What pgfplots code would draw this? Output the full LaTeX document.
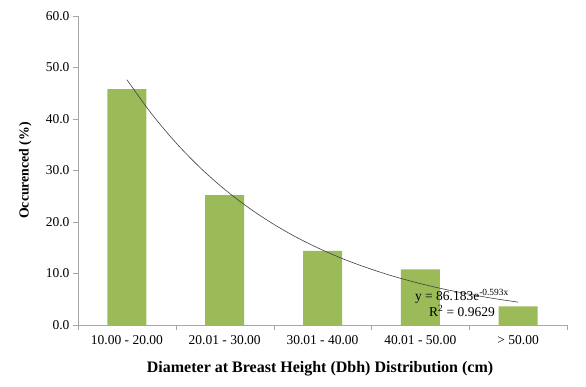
\documentclass[border=0pt]{standalone}
\usepackage{pgfplots}
\pgfplotsset{compat=1.18}
\usepackage{fontspec}
\setmainfont{Liberation Serif}
\definecolor{bargreen}{HTML}{9BBB59}
\definecolor{axisgray}{HTML}{A6A6A6}
\begin{document}
\begin{tikzpicture}
\path[use as bounding box] (-78pt,-62pt) rectangle (508pt,325pt);
\begin{axis}[
  at={(0pt,0pt)}, anchor=south west,
  scale only axis, width=489pt, height=309pt,
  xmin=-0.5, xmax=4.5, ymin=0, ymax=60,
  axis x line*=bottom, axis y line*=left,
  axis line style={draw=axisgray},
  tick style={draw=axisgray},
  tick align=outside, major tick length=5pt,
  xtick={-0.5,0.5,...,4.5},
  x tick label as interval,
  xticklabels={10.00 - 20.00, 20.01 - 30.00, 30.01 - 40.00, 40.01 - 50.00, > 50.00},
  ytick={0,10,...,60},
  yticklabel style={/pgf/number format/.cd,fixed,fixed zerofill,precision=1},
  /pgf/number format/assume math mode=true,
  ticklabel style={font=\fontsize{13.5}{15}\selectfont},
  xticklabel style={yshift=-2pt},
  xlabel={Diameter at Breast Height (Dbh) Distribution (cm)},
  ylabel={Occurenced (\%)},
  xlabel style={font=\fontsize{16}{18}\selectfont\bfseries, at={(axis description cs:0.495,-0.142)}, anchor=center},
  ylabel style={font=\fontsize{13.8}{16}\selectfont\bfseries, at={(axis description cs:-0.108,0.5)}, anchor=center},
  clip=false,
]
\addplot[ybar, bar width=39pt, fill=bargreen, draw=none] coordinates {
  (0,45.8) (1,25.2) (2,14.4) (3,10.8) (4,3.6)
};
\addplot[smooth, draw=black!75, line width=0.6pt, no marks] coordinates {
  (0,47.63) (0.25,41.07) (0.5,35.41) (0.75,30.53) (1,26.32) (1.25,22.70)
  (1.5,19.57) (1.75,16.87) (2,14.55) (2.25,12.54) (2.5,10.82) (2.75,9.32)
  (3,8.04) (3.25,6.93) (3.5,5.98) (3.75,5.15) (4,4.44)
};
\node[align=center, font=\fontsize{13.5}{16}\selectfont, inner sep=0pt] at (axis cs:3.426,4.27)
  {y = 86.183e\textsuperscript{-0.593x}\\R\textsuperscript{2} = 0.9629};
\end{axis}
\end{tikzpicture}
\end{document}
